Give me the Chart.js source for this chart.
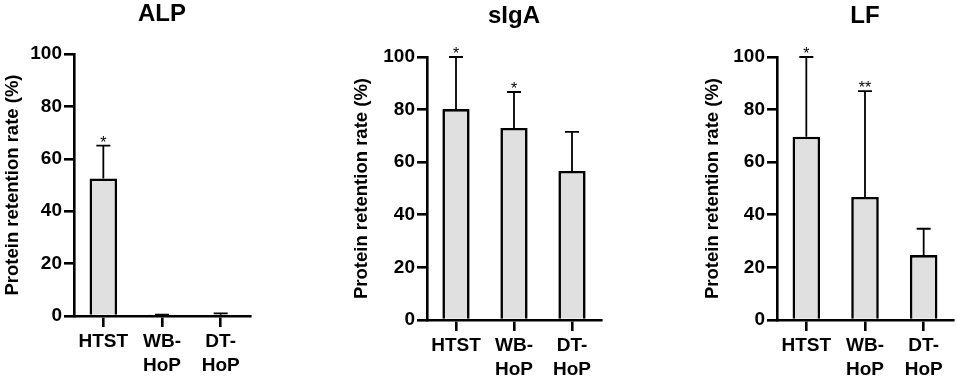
<!DOCTYPE html>
<html>
<head>
<meta charset="utf-8">
<script src="https://cdn.jsdelivr.net/npm/chart.js@4.4.0/dist/chart.umd.min.js"></script>
<style>
  body { margin: 0; background: #fff; }
  #wrap { position: relative; width: 957px; height: 378px; }
  .panel { position: absolute; top: 0; height: 378px; }
</style>
</head>
<body>
<div id="wrap">
  <div class="panel" style="left:0px;width:256px"><canvas id="alp"></canvas></div>
  <div class="panel" style="left:330px;width:280px"><canvas id="siga"></canvas></div>
  <div class="panel" style="left:680px;width:277px"><canvas id="lf"></canvas></div>
</div>
<script>
// Données
const categorias = ["HTST", ["WB-", "HoP"], ["DT-", "HoP"]];
const yTicks = [0, 20, 40, 60, 80, 100];

const alpMedia = [52.5, 0.3, 0.5];
const alpDesvio = [12.5, 0.2, 0.5];
const alpSig = ["*", "", ""];

const sigaMedia = [80.2, 73.0, 56.7];
const sigaDesvio = [19.8, 13.7, 14.8];
const sigaSig = ["*", "*", ""];

const lfMedia = [69.7, 46.8, 24.7];
const lfDesvio = [30.3, 40.2, 10.0];
const lfSig = ["*", "**", ""];

const fonte = "'Liberation Sans', Arial, sans-serif";

// Barras de erro (só o lado de cima) e asteriscos
const barrasErro = {
    id: "barrasErro",
    afterDatasetsDraw(chart, args, opts) {
        const ctx = chart.ctx;
        const y = chart.scales.y;
        const meta = chart.getDatasetMeta(0);
        ctx.save();
        ctx.strokeStyle = "#000";
        ctx.lineWidth = 1.8;
        meta.data.forEach((bar, i) => {
            const topo = y.getPixelForValue(opts.media[i] + opts.desvio[i]);
            ctx.beginPath();
            ctx.moveTo(bar.x, bar.y);
            ctx.lineTo(bar.x, topo);
            ctx.moveTo(bar.x - 7, topo);
            ctx.lineTo(bar.x + 7, topo);
            ctx.stroke();
            if (opts.sig[i]) {
                ctx.fillStyle = "#000";
                ctx.font = "16px " + fonte;
                ctx.textAlign = "center";
                ctx.textBaseline = "alphabetic";
                ctx.fillText(opts.sig[i], bar.x, topo + 2);
            }
        });
        ctx.restore();
    }
};

function criarGrafico(id, titulo, media, desvio, sig, cfg) {
    const ctx = document.getElementById(id).getContext("2d");
    return new Chart(ctx, {
        type: "bar",
        data: {
            labels: categorias,
            datasets: [{
                data: media,
                backgroundColor: "#e0e0e0",
                borderColor: "#000",
                borderWidth: 2.6,
                borderSkipped: "bottom",
                barPercentage: 0.94,
                categoryPercentage: 0.5,
            }],
        },
        options: {
            responsive: true,
            maintainAspectRatio: false,
            animation: false,
            layout: { padding: { left: 0, right: cfg.direita, top: 0, bottom: 0 } },
            plugins: {
                legend: { display: false },
                tooltip: { enabled: false },
                title: {
                    display: true,
                    text: titulo,
                    fullSize: false,
                    color: "#000",
                    font: { family: fonte, size: 24, weight: "bold" },
                    padding: { top: cfg.tituloTopo, bottom: cfg.areaTopo - cfg.tituloTopo - 28.8 },
                },
                barrasErro: { media: media, desvio: desvio, sig: sig },
            },
            scales: {
                x: {
                    afterFit: (s) => { s.height = 378 - cfg.areaBase; },
                    grid: {
                        display: true, offset: false, drawOnChartArea: false,
                        drawTicks: true, tickLength: 11, color: "#000", lineWidth: 2.6,
                    },
                    border: { display: true, color: "#000", width: 2.6 },
                    ticks: {
                        color: "#000", padding: 3, maxRotation: 0, autoSkip: false,
                        font: { family: fonte, size: 19, weight: "bold", lineHeight: 1.26 },
                    },
                },
                y: {
                    min: 0, max: 100,
                    afterFit: (s) => { s.width = cfg.eixoLargura; },
                    afterBuildTicks: (s) => { s.ticks = yTicks.map(v => ({ value: v })); },
                    grid: {
                        display: true, drawOnChartArea: false, drawTicks: true,
                        tickLength: 10, color: "#000", lineWidth: 2.6,
                    },
                    border: { display: true, color: "#000", width: 2.6 },
                    ticks: {
                        color: "#000", padding: 2,
                        font: { family: fonte, size: 19, weight: "bold" },
                    },
                    title: {
                        display: true,
                        text: "Protein retention rate (%)",
                        color: "#000",
                        font: { family: fonte, size: 18.5, weight: "bold" },
                        padding: { top: cfg.tituloY, bottom: 0 },
                    },
                },
            },
        },
        plugins: [barrasErro],
    });
}

document.addEventListener("DOMContentLoaded", function() {
    criarGrafico("alp", "ALP", alpMedia, alpDesvio, alpSig,
        { direita: 6, eixoLargura: 74, tituloTopo: 0, areaTopo: 54, areaBase: 316, tituloY: 2 });
    criarGrafico("siga", "sIgA", sigaMedia, sigaDesvio, sigaSig,
        { direita: 9, eixoLargura: 97, tituloTopo: 1.5, areaTopo: 57, areaBase: 320, tituloY: 21 });
    criarGrafico("lf", "LF", lfMedia, lfDesvio, lfSig,
        { direita: 4, eixoLargura: 97, tituloTopo: 1.5, areaTopo: 57, areaBase: 320, tituloY: 22 });
});
</script>
</body>
</html>
